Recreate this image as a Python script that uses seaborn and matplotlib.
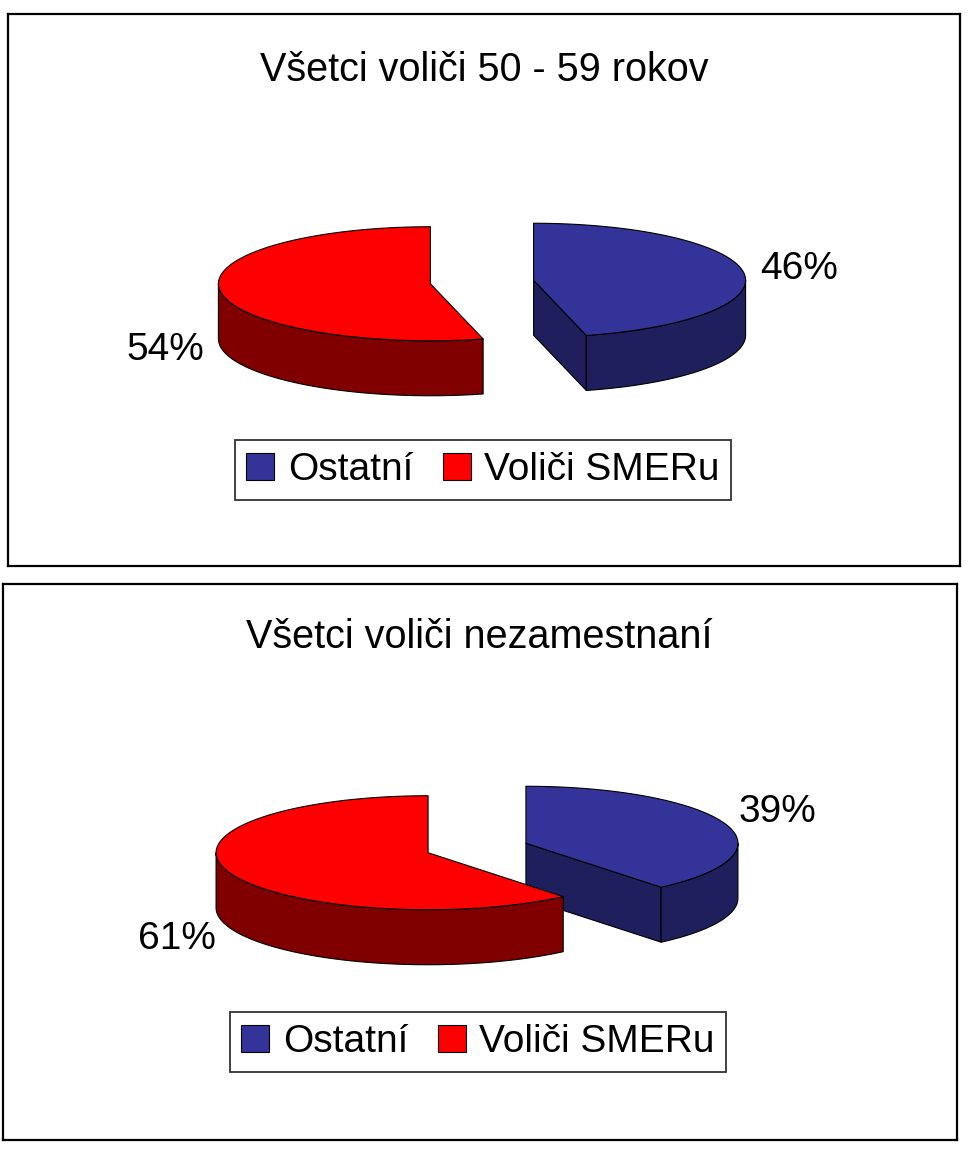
import numpy as np
import matplotlib
matplotlib.use("Agg")
import matplotlib.pyplot as plt
from matplotlib.patches import Polygon, Patch
import seaborn as sns

# chart data
titles = ["Všetci voliči 50 - 59 rokov", "Všetci voliči nezamestnaní"]
categories = ["Ostatní", "Voliči SMERu"]
shares_50_59 = [46, 54]
shares_unemployed = [39, 61]
top_colors = ["#333399", "#FF0000"]
side_colors = ["#1F1F5E", "#800000"]

sns.set_theme(style="white")
plt.rcParams["font.family"] = ["Liberation Sans", "DejaVu Sans"]

W, H = 969, 1153
fig = plt.figure(figsize=(W / 100, H / 100), dpi=100)


def panel_axes(left, top, right, bottom):
    ax = fig.add_axes([left / W, 1 - bottom / H, (right - left) / W, (bottom - top) / H])
    ax.set_xlim(0, right - left)
    ax.set_ylim(bottom - top, 0)
    ax.set_xticks([])
    ax.set_yticks([])
    for sp in ax.spines.values():
        sp.set_visible(True)
        sp.set_color("black")
        sp.set_linewidth(1.6)
    return ax


def pie3d(ax, shares, cx, cy, rx=212, ry=57, depth=55, explode=52):
    total = sum(shares)
    start = 90.0

    def pt(x0, y0, a, dz=0.0):
        r = np.radians(a)
        return np.column_stack([x0 + rx * np.cos(r), y0 - ry * np.sin(r) + dz])

    for share, ctop, cside in zip(shares, top_colors, side_colors):
        sweep = 360.0 * share / total
        a0, a1 = start - sweep, start
        start = a0
        b = np.radians((a0 + a1) / 2)
        x0 = cx + explode * np.cos(b)
        y0 = cy - explode * (ry / rx) * np.sin(b)
        kw = dict(edgecolor="black", linewidth=0.8, joinstyle="round")

        # radial cut faces facing the viewer
        for phi, normal in ((a0, a0 - 90), (a1, a1 + 90)):
            if np.sin(np.radians(normal)) < -1e-6:
                e = pt(x0, y0, np.array([phi]))[0]
                quad = [(x0, y0), e, (e[0], e[1] + depth), (x0, y0 + depth)]
                ax.add_patch(Polygon(quad, closed=True, facecolor=cside, **kw))

        # visible outer wall (front half)
        for k in (-1, 0, 1):
            lo, hi = max(a0, 180 + 360 * k), min(a1, 360 + 360 * k)
            if hi > lo:
                angs = np.linspace(lo, hi, 120)
                upper = pt(x0, y0, angs)
                lower = pt(x0, y0, angs[::-1], depth)
                ax.add_patch(Polygon(np.vstack([upper, lower]), closed=True,
                                     facecolor=cside, **kw))

        # top face
        angs = np.linspace(a0, a1, 240)
        face = np.vstack([[x0, y0], pt(x0, y0, angs)])
        ax.add_patch(Polygon(face, closed=True, facecolor=ctop, **kw))

        # percentage label
        lx = x0 + 1.26 * rx * np.cos(b)
        ly = y0 - 1.6 * ry * np.sin(b) + (depth if np.cos(b) < 0 else 0)
        ax.text(lx, ly, f"{share:.0f}%", ha="center", va="center",
                fontsize=28, color="black")


def legend(ax, x, y):
    handles = [Patch(facecolor=c, edgecolor="black", linewidth=0.8) for c in top_colors]
    leg = ax.legend(handles, categories, loc="center", bbox_to_anchor=(x, y),
                    bbox_transform=ax.transData, ncol=2, fontsize=28,
                    labelcolor="black", frameon=True, fancybox=False,
                    handlelength=0.72, handleheight=0.72, handletextpad=0.35,
                    columnspacing=0.75, borderpad=0.3, borderaxespad=0)
    leg.get_frame().set_edgecolor("black")
    leg.get_frame().set_linewidth(1.3)


panels = [
    ((8, 14, 960, 566), titles[0], shares_50_59, (474, 268), 56, 456),
    ((3, 584, 957, 1140), titles[1], shares_unemployed, (474, 264), 53, 458),
]

for box, title, shares, (cx, cy), ty, ly in panels:
    ax = panel_axes(*box)
    ax.text(cx + 2, ty, title, ha="center", va="center", fontsize=28.5, color="black")
    pie3d(ax, shares, cx, cy)
    legend(ax, cx + 1, ly)

fig.savefig("out.png", dpi=100, facecolor="white")
